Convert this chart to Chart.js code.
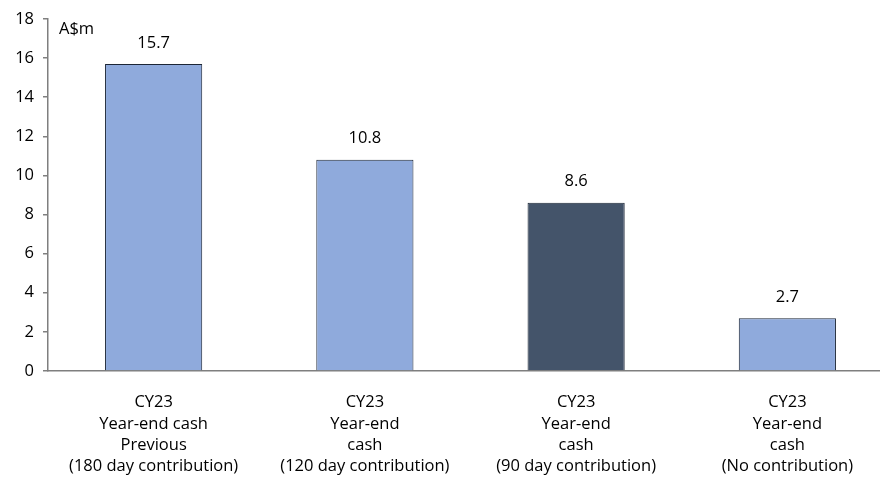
<!DOCTYPE html>
<html>
<head>
<meta charset="utf-8">
<script src="https://cdn.jsdelivr.net/npm/chart.js@4.4.1/dist/chart.umd.min.js"></script>
<style>
  html, body { margin: 0; padding: 0; background: #fff; overflow: hidden; }
  #wrap { width: 900px; height: 484px; }
</style>
</head>
<body>
<div id="wrap"><canvas id="c" width="900" height="484"></canvas></div>
<script>
// Year-end cash scenarios (A$m)
const categories = [
  ["CY23", "Year-end cash", "Previous", "(180 day contribution)"],
  ["CY23", "Year-end", "cash", "(120 day contribution)"],
  ["CY23", "Year-end", "cash", "(90 day contribution)"],
  ["CY23", "Year-end", "cash", "(No contribution)"]
];
const cashValues = [15.7, 10.8, 8.6, 2.7];
const valueLabels = ["15.7", "10.8", "8.6", "2.7"];
const barColors = ["#8faadc", "#8faadc", "#44546a", "#8faadc"];
const yTicks = [0, 2, 4, 6, 8, 10, 12, 14, 16, 18];
const unitLabel = "A$m";

const FONT = "'Open Sans', 'Liberation Sans', sans-serif";
const SIZE = 16.5;

const annotate = {
  id: "annotate",
  afterDatasetsDraw(chart) {
    const ctx = chart.ctx;
    const meta = chart.getDatasetMeta(0);
    ctx.save();
    ctx.fillStyle = "#000";
    ctx.font = SIZE + "px " + FONT;
    ctx.textAlign = "center";
    ctx.textBaseline = "middle";
    meta.data.forEach((bar, i) => {
      ctx.fillText(valueLabels[i], bar.x, bar.y - 21);
    });
    ctx.textAlign = "left";
    ctx.fillText(unitLabel, chart.chartArea.left + 11, 29);
    ctx.restore();
  }
};

new Chart(document.getElementById("c"), {
  type: "bar",
  data: {
    labels: categories,
    datasets: [{
      data: cashValues,
      backgroundColor: barColors,
      borderColor: "#1c2636",
      borderWidth: 1,
      barPercentage: 0.46,
      categoryPercentage: 1
    }]
  },
  options: {
    responsive: false,
    animation: false,
    layout: { padding: { top: 12, right: 7, left: 0, bottom: 0 } },
    plugins: { legend: { display: false }, tooltip: { enabled: false } },
    scales: {
      x: {
        grid: { display: false, drawTicks: false },
        border: { color: "#7f7f7f", width: 1.5 },
        ticks: {
          color: "#000",
          font: { family: FONT, size: SIZE, lineHeight: 1.29 },
          padding: 21,
          maxRotation: 0,
          autoSkip: false
        },
        afterFit(scale) { scale.height = 113; }
      },
      y: {
        min: 0,
        max: 18,
        afterBuildTicks(scale) { scale.ticks = yTicks.map(v => ({ value: v })); },
        grid: { drawOnChartArea: false, drawTicks: true, tickLength: 5, color: "#7f7f7f", lineWidth: 1.5 },
        border: { color: "#7f7f7f", width: 1.5 },
        ticks: {
          color: "#000",
          font: { family: FONT, size: SIZE },
          padding: 9
        },
        afterFit(scale) { scale.width = 48; }
      }
    }
  },
  plugins: [annotate]
});
</script>
</body>
</html>
